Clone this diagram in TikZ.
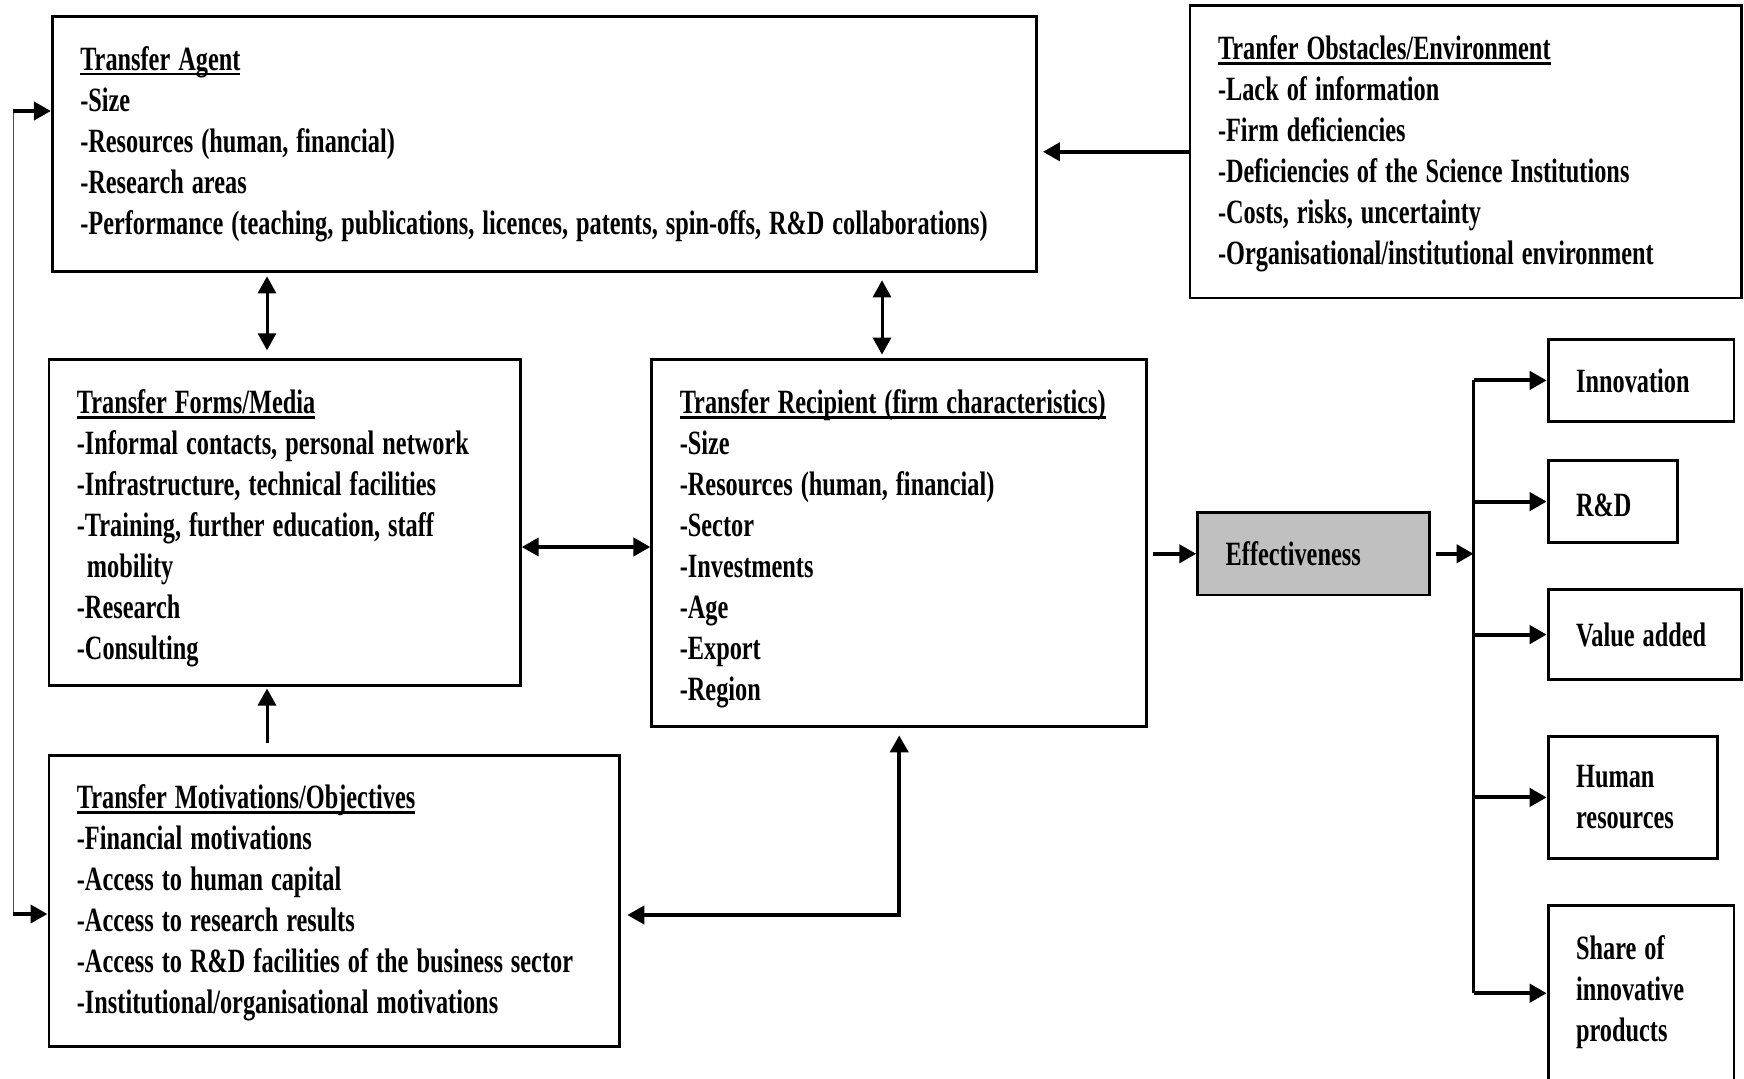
\documentclass[tikz,border=0pt]{standalone}
\usepackage{fontspec}
\newfontfamily\cf[FakeStretch=0.715]{Liberation Serif}
\usetikzlibrary{arrows.meta}
\newcommand\hdrline[1]{\setbox0\hbox{#1}\rlap{\rule[-2.6pt]{\wd0}{1.4pt}}\box0}
\newcommand\boxfont{\cf\bfseries\fontsize{17}{20.5}\selectfont}
\newcommand\tightsp{\spaceskip=4pt\relax\xspaceskip=4pt\relax}
\begin{document}
\begin{tikzpicture}[x=1pt,y=-1pt,
  box/.style={draw,line width=1.4pt,align=left,inner xsep=14pt,inner ysep=0pt,anchor=center,
    font=\boxfont},
  tip/.tip={Triangle[length=8.5pt,width=9pt]},
  arr/.style={line width=2pt,-tip},
  darr/.style={line width=2pt,tip-tip},
  marr/.style={line width=1.5pt,-tip},
  mdarr/.style={line width=1.5pt,tip-tip},
]
\clip (0,0) rectangle (872,539.5);
\fill[white] (0,0) rectangle (872,539.5);

% main boxes
\node[box,minimum width=492.1pt,minimum height=127.3pt,text width=464.1pt] (agent) at (272.2,72.0)
 {\tightsp\hdrline{Transfer Agent}\\-Size\\-Resources (human, financial)\\-Research areas\\
  \mbox{-Performance (teaching, publications, licences, patents, spin-offs, R\&D collaborations)}};
\node[box,minimum width=275.8pt,minimum height=146.2pt,text width=247.8pt] (obs) at (732.9,75.9)
 {\tightsp\hdrline{Tranfer Obstacles/Environment}\rule{0pt}{14pt}\\\mbox{-Lack of information}\\\mbox{-Firm deficiencies}\\
  \mbox{-Deficiencies of the Science Institutions}\\\mbox{-Costs, risks, uncertainty}\\
  \mbox{-Organisational/institutional environment}};
\node[box,minimum width=235.7pt,minimum height=162.9pt,text width=207.7pt] (forms) at (142.3,261.1)
 {\tightsp\hdrline{Transfer Forms/Media}\rule{0pt}{18pt}\\\mbox{-Informal contacts, personal network}\\
  \mbox{-Infrastructure, technical facilities}\\\mbox{-Training, further education, staff}\\
  \hspace*{5pt}mobility\\-Research\\-Consulting};
\node[box,minimum width=247.4pt,minimum height=183.6pt,text width=219.4pt] (rec) at (449.6,271.4)
 {\tightsp\hdrline{Transfer Recipient (firm characteristics)}\rule{0pt}{18pt}\\-Size\\\mbox{-Resources (human, financial)}\\
  -Sector\\-Investments\\-Age\\-Export\\-Region};
\node[box,minimum width=285.3pt,minimum height=145.7pt,text width=257.3pt] (mot) at (167.1,450.4)
 {\tightsp\hdrline{Transfer Motivations/Objectives}\rule{0pt}{14pt}\\\mbox{-Financial motivations}\\\mbox{-Access to human capital}\\
  \mbox{-Access to research results}\\\mbox{-Access to R\&D facilities of the business sector}\\
  \mbox{-Institutional/organisational motivations}};

% effectiveness and outcomes
\node[box,fill={rgb,255:red,192;green,192;blue,192},minimum width=115.7pt,minimum height=41.2pt,text width=87.7pt] (eff) at (656.7,276.9) {Effectiveness};
\node[box,minimum width=92.9pt,minimum height=41.1pt,text width=64.9pt] (inno) at (820.5,190.2) {Innovation};
\node[box,minimum width=64.5pt,minimum height=41.1pt,text width=36.5pt] (rd) at (806.3,250.8) {\rule{0pt}{15pt}R\&D};
\node[box,minimum width=96.7pt,minimum height=45pt,text width=68.7pt] (va) at (822.4,317.3) {\tightsp\mbox{Value added}};
\node[box,minimum width=84.5pt,minimum height=61.2pt,text width=56.5pt] (hr) at (816.3,398.7) {Human\\resources};
\node[box,minimum width=92.9pt,minimum height=96pt,text width=64.9pt] (share) at (820.5,500.7) {\tightsp\mbox{Share of}\\innovative\\products\rule[-13pt]{0pt}{1pt}};

% helper coordinates
\coordinate (c1) at (133.5,0);
\coordinate (c2) at (441,0);
\coordinate (c3) at (0,273.5);
\coordinate (corner) at (449.6,457.5);
\coordinate (busT) at (736.8,190.2);
\coordinate (busB) at (736.8,496.6);
\coordinate (fb1) at (6.7,55.5);
\coordinate (fb2) at (6.7,457);

% connectors
\draw[arr,shorten >=2.5pt] (obs.west) -- (obs.west -| agent.east);
\draw[mdarr,shorten <=1.8pt,shorten >=3.8pt] (agent.south -| c1) -- (forms.north -| c1);
\draw[mdarr,shorten <=3.8pt,shorten >=1.6pt] (agent.south -| c2) -- (rec.north -| c2);
\draw[darr] (forms.east |- c3) -- (rec.west |- c3);
\draw[marr,shorten <=5.6pt,shorten >=1pt] (mot.north -| c1) -- (forms.south -| c1);
\draw[darr,shorten <=3.8pt,shorten >=3.2pt] (rec.south) -- (corner) -- (corner -| mot.east);
\draw[arr,shorten <=2.5pt] (eff.west -| rec.east) -- (eff.west);
\draw[arr,shorten <=2.8pt] (eff.east) -- (eff.east -| busT);
\draw[line width=1.6pt] (busT) -- (busB);
\draw[arr] (busT) -- (inno.west);
\draw[arr] (rd.west -| busT) -- (rd.west);
\draw[arr] (va.west -| busT) -- (va.west);
\draw[arr] (hr.west -| busT) -- (hr.west);
\draw[arr] (busB) -- (busB -| share.west);
\draw[line width=0.6pt,black!70] (fb1) -- (fb2);
\draw[arr] (fb1) -- (fb1 -| agent.west);
\draw[arr] (fb2) -- (fb2 -| mot.west);
\end{tikzpicture}
\end{document}
